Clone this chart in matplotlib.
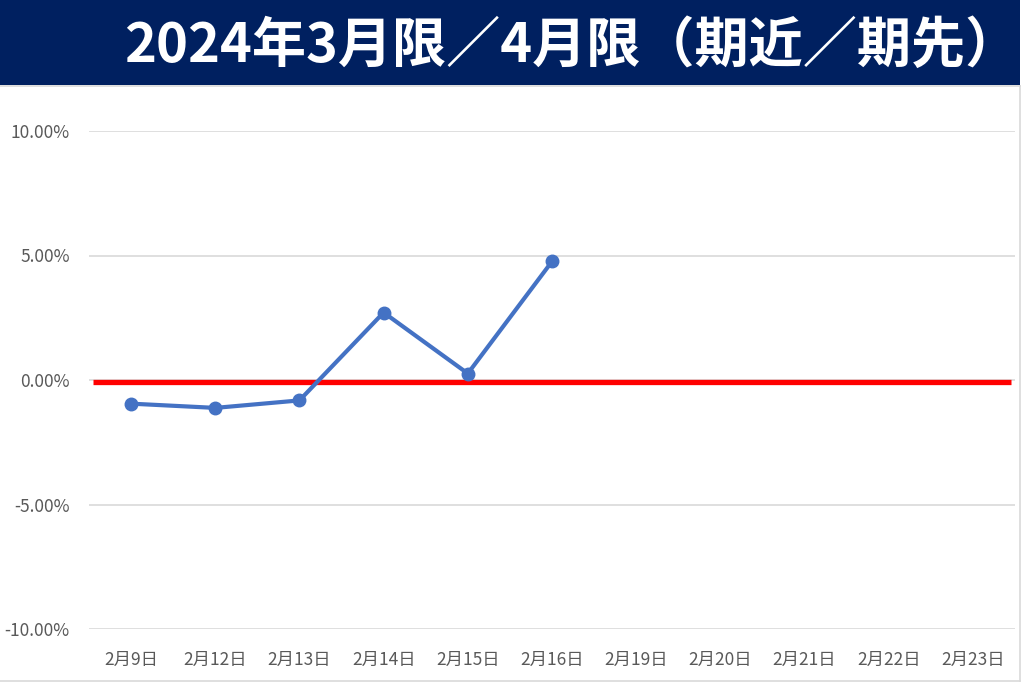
import matplotlib
matplotlib.use("Agg")
import matplotlib.pyplot as plt
from matplotlib.patches import Rectangle
from matplotlib.lines import Line2D
from matplotlib.ticker import FuncFormatter, MultipleLocator

plt.rcParams['font.family'] = ['Noto Sans CJK JP', 'DejaVu Sans']

title = "2024年3月限／4月限（期近／期先）"
dates = ["2月9日", "2月12日", "2月13日", "2月14日", "2月15日", "2月16日",
         "2月19日", "2月20日", "2月21日", "2月22日", "2月23日"]
spread = [-0.0095, -0.0112, -0.0082, 0.0271, 0.0026, 0.0476]
zero_line = [0.0] * len(dates)

W, H = 1024, 684
fig = plt.figure(figsize=(W / 100, H / 100), dpi=100)
fig.patch.set_facecolor("white")

# title banner
fig.patches.append(Rectangle((0, (H - 85) / H), 1020 / W, 85 / H,
                             transform=fig.transFigure, facecolor="#002060",
                             edgecolor="none", zorder=0))
fig.text(572 / W, (H - 46) / H, title, color="white", fontsize=39,
         fontweight="bold", ha="center", va="center")

# chart border lines
fig.add_artist(Line2D([1020 / W, 1020 / W], [(H - 681) / H, (H - 86) / H],
                      transform=fig.transFigure, color="#d9d9d9", lw=1.2))
fig.add_artist(Line2D([0, 1020 / W], [(H - 681) / H, (H - 681) / H],
                      transform=fig.transFigure, color="#d9d9d9", lw=1.2))
fig.add_artist(Line2D([0, 1020 / W], [(H - 86) / H, (H - 86) / H],
                      transform=fig.transFigure, color="#d9d9d9", lw=1.2))

left, right = 89 / W, 1015 / W
bottom, top = (H - 629) / H, (H - 131) / H
ax = fig.add_axes([left, bottom, right - left, top - bottom])
x = list(range(len(dates)))
ax.set_xlim(-0.5, len(dates) - 0.5)
ax.set_ylim(-0.10, 0.10)

ax.yaxis.set_major_locator(MultipleLocator(0.05))
ax.yaxis.set_major_formatter(FuncFormatter(lambda v, p: f"{v*100:.2f}%"))
ax.grid(axis="y", color="#d9d9d9", lw=1.2)
ax.set_axisbelow(True)
for s in ax.spines.values():
    s.set_visible(False)
ax.tick_params(axis="both", length=0, labelcolor="#595959", labelsize=12.5)
ax.tick_params(axis="y", pad=14)
ax.tick_params(axis="x", pad=16)
ax.set_xticks(x)
ax.set_xticklabels(dates)

ax.plot([-0.45, len(dates) - 0.55], [zero_line[0] - 0.0008, zero_line[-1] - 0.0008],
        color="#ff0000", lw=3.8, solid_capstyle="butt", zorder=2)
ax.plot(x[:len(spread)], spread, color="#4472C4", lw=3, marker="o",
        markersize=9, zorder=3, clip_on=False)

fig.savefig("out.png", dpi=100)
